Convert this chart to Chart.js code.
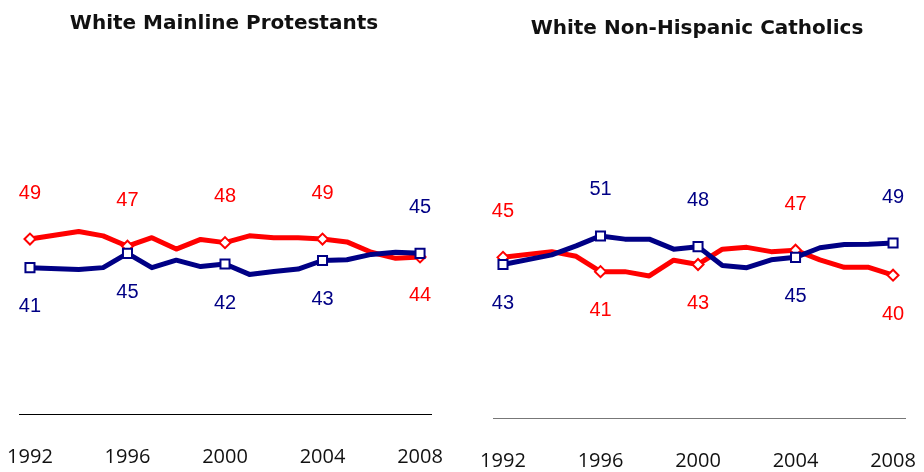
<!DOCTYPE html>
<html>
<head>
<meta charset="utf-8">
<script src="https://cdn.jsdelivr.net/npm/chart.js@4"></script>
<style>
  body { margin: 0; background: #fff; }
  #wrap { position: relative; width: 924px; height: 472px; }
  .panel { position: absolute; top: 0; width: 462px; height: 472px; }
  .title {
    position: absolute; width: 462px; text-align: center;
    font: bold 20px "DejaVu Sans", sans-serif; color: #111; line-height: 24px;
  }
</style>
</head>
<body>
<div id="wrap">
  <div class="panel" style="left:0"><canvas id="mainline" width="462" height="472"></canvas></div>
  <div class="panel" style="left:462px"><canvas id="catholic" width="462" height="472"></canvas></div>
  <div class="title" style="left:-7px; top:10px">White Mainline Protestants</div>
  <div class="title" style="left:466px; top:15px">White Non-Hispanic Catholics</div>
</div>
<script>
// survey years (no 1993 reading)
const years = [1992, 1994, 1995, 1996, 1997, 1998, 1999, 2000, 2001, 2002, 2003, 2004, 2005, 2006, 2007, 2008]
// years that get a marker and a value label
const markYears = [1992, 1996, 2000, 2004, 2008]
const tickYears = [1992, 1996, 2000, 2004, 2008]

const mainlineRed  = [49, 51.1, 49.9, 47, 49.4, 46.2, 48.9, 48, 49.9, 49.4, 49.4, 49, 48.2, 45.3, 43.6, 44]
const mainlineBlue = [41, 40.5, 41, 45, 41, 43.1, 41.3, 42, 39.1, 39.9, 40.6, 43, 43.2, 44.7, 45.3, 45]

const catholicRed  = [45, 46.6, 45.3, 41, 41, 39.8, 44.2, 43, 47.3, 47.8, 46.6, 47, 44.3, 42.2, 42.2, 40]
const catholicBlue = [43, 45.7, 48.2, 51, 50.1, 50.1, 47.3, 48, 42.7, 42.1, 44.3, 45, 47.7, 48.6, 48.7, 49]

const RED = '#ff0000'
const NAVY = '#000085'

// value labels above/below marked points, whichever side is away from the other line
const valueLabels = {
    id: 'valueLabels',
    afterDatasetsDraw(chart) {
        const ctx = chart.ctx
        const sets = chart.data.datasets
        ctx.save()
        ctx.font = '20px "Liberation Sans", Arial, sans-serif'
        ctx.textAlign = 'center'
        ctx.textBaseline = 'middle'
        sets.forEach((ds, di) => {
            const meta = chart.getDatasetMeta(di)
            const other = sets[1 - di]
            ds.data.forEach((p, i) => {
                if (!markYears.includes(p.x)) return
                const el = meta.data[i]
                const above = p.y > other.data[i].y
                ctx.fillStyle = ds.borderColor
                ctx.fillText(String(p.y), el.x, above ? el.y - 46 : el.y + 39)
            })
        })
        ctx.restore()
    }
}

function series(vals) {
    return years.map((y, i) => ({ x: y, y: vals[i] }))
}

function makeChart(id, red, blue, opts) {
    new Chart(document.getElementById(id), {
        type: 'line',
        data: {
            datasets: [
                {
                    label: 'blue',
                    data: series(blue),
                    borderColor: NAVY,
                    borderWidth: 5,
                    borderJoinStyle: 'round',
                    tension: 0,
                    pointStyle: 'rect',
                    pointRadius: years.map(y => markYears.includes(y) ? 6.4 : 0),
                    pointBackgroundColor: '#fff',
                    pointBorderColor: NAVY,
                    pointBorderWidth: 2
                },
                {
                    label: 'red',
                    data: series(red),
                    borderColor: RED,
                    borderWidth: 5,
                    borderJoinStyle: 'round',
                    tension: 0,
                    pointStyle: 'rectRot',
                    pointRadius: years.map(y => markYears.includes(y) ? 5.5 : 0),
                    pointBackgroundColor: '#fff',
                    pointBorderColor: RED,
                    pointBorderWidth: 2
                }
            ]
        },
        options: {
            responsive: false,
            animation: false,
            layout: { padding: { left: opts.left, right: opts.right, top: opts.top, bottom: 0 } },
            scales: {
                x: {
                    type: 'linear',
                    min: opts.xMin,
                    max: opts.xMax,
                    afterBuildTicks: s => { s.ticks = tickYears.map(v => ({ value: v })) },
                    afterFit: s => {
                        s.height = opts.axisH
                        // the edge labels may hang past the axis line
                        s.paddingLeft = 0
                        s.paddingRight = 0
                    },
                    grid: { display: false, drawTicks: false },
                    border: { display: true, color: opts.axisColor, width: 1 },
                    ticks: {
                        color: '#111',
                        padding: 31,
                        font: { family: '"Open Sans", sans-serif', size: 20 },
                        callback: v => String(v)
                    }
                },
                y: { display: false, min: 0, max: 100 }
            },
            plugins: { legend: { display: false }, tooltip: { enabled: false } }
        },
        plugins: [valueLabels]
    })
}

makeChart('mainline', mainlineRed, mainlineBlue, {
    left: 19, right: 31, top: 57, axisH: 58, xMin: 1991.55, xMax: 2008.45, axisColor: '#000'
})
makeChart('catholic', catholicRed, catholicBlue, {
    left: 31, right: 19, top: 61, axisH: 54, xMin: 1991.59, xMax: 2008.49, axisColor: '#777'
})
</script>
</body>
</html>
